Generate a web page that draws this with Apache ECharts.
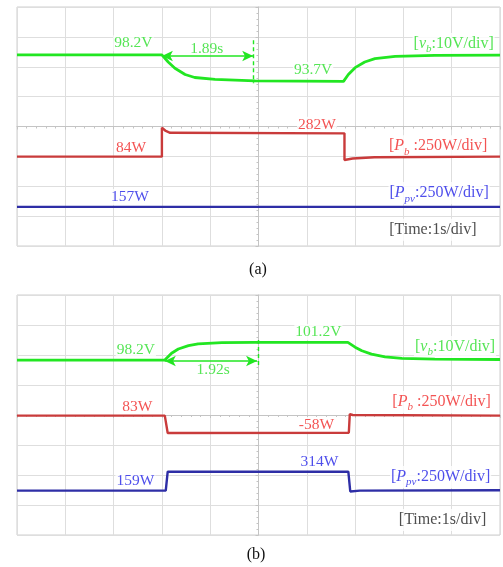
<!DOCTYPE html>
<html><head><meta charset="utf-8">
<script src="https://cdn.jsdelivr.net/npm/echarts@6/dist/echarts.min.js"></script>
<style>html,body{margin:0;padding:0;background:#fff}#c{width:503px;height:567px}</style>
</head><body><div id="c"></div>
<script>
// Time in seconds (1 s/div, 10 div); trace levels in screen divisions (0..8 from bottom)
// ---- Panel (a)
const tVbA  = [0, 3.00, 3.13, 3.27, 3.48, 3.68, 4.10, 4.93, 6.76, 6.86, 7.00, 7.20, 7.41, 7.83, 8.65, 10];
const vbA   = [6.40, 6.40, 6.16, 5.95, 5.74, 5.64, 5.58, 5.53, 5.51, 5.74, 5.97, 6.16, 6.27, 6.35, 6.38, 6.39];
const tPbA  = [0, 3.00, 3.00, 3.08, 3.17, 6.78, 6.78, 6.95, 7.40, 10];
const pbA   = [2.99, 2.99, 3.96, 3.85, 3.79, 3.77, 2.88, 2.93, 2.97, 2.99];
const tPpvA = [0, 10];
const ppvA  = [1.31, 1.31];
// ---- Panel (b)
const tVbB  = [0, 3.06, 3.20, 3.34, 3.55, 3.75, 4.24, 4.93, 6.85, 7.00, 7.14, 7.34, 7.62, 7.97, 8.65, 10];
const vbB   = [5.83, 5.83, 6.06, 6.20, 6.31, 6.37, 6.41, 6.42, 6.42, 6.26, 6.14, 6.03, 5.94, 5.89, 5.86, 5.85];
const tPbB  = [0, 3.06, 3.12, 6.87, 6.89, 6.95, 10];
const pbB   = [3.98, 3.98, 3.40, 3.41, 4.03, 4.00, 3.98];
const tPpvB = [0, 3.08, 3.12, 6.86, 6.90, 7.10, 10];
const ppvB  = [1.48, 1.48, 2.11, 2.11, 1.45, 1.48, 1.49];
// Annotated values
const valuesA = ['98.2V', '1.89s', '93.7V', '84W', '282W', '157W'];
const valuesB = ['98.2V', '1.92s', '101.2V', '83W', '-58W', '159W', '314W'];
const arrowA = {t0: 3.00, t1: 4.89, level: 6.36, dashTop: 6.89, dashBot: 5.45};
const arrowB = {t0: 3.06, t1: 4.97, level: 5.80, dashTop: 6.50, dashBot: 5.57, dashT: 4.99};

const GREEN = '#22e622', GREEN_T = '#2adf2a';
const RED = '#c93b3b', RED_T = '#f02828';
const BLUE = '#2e2ea6', BLUE_T = '#2222e6';
const FONT = '"Liberation Serif", "DejaVu Serif", serif';

const zip = (xs, ys) => xs.map((x, i) => [x, ys[i]]);

const rich = {
  n: {fontFamily: FONT, fontSize: 16, lineHeight: 22, verticalAlign: 'middle'},
  i: {fontFamily: FONT, fontSize: 16, fontStyle: 'italic', lineHeight: 22, verticalAlign: 'middle'},
  s: {fontFamily: FONT, fontSize: 11, fontStyle: 'italic', lineHeight: 14, verticalAlign: 'bottom'}
};
const scaleLabel = {
  vb:  '{n|[}{i|v}{s|b}{n|:10V/div]}',
  pb:  '{n|[}{i|P}{s|b}{n| :250W/div]}',
  ppv: '{n|[}{i|P}{s|pv}{n|:250W/div]}',
  time:'{n|[Time:1s/div]}'
};

function labelSeries(xi, yi, items) {
  return {
    type: 'scatter', xAxisIndex: xi, yAxisIndex: yi, symbolSize: 1, silent: true, z: 1,
    itemStyle: {color: 'rgba(0,0,0,0)'},
    data: items.map(it => ({
      value: it.at,
      label: {
        show: true, position: 'inside', formatter: it.f, color: it.c,
        fontFamily: FONT, fontSize: 15.5, rich: Object.fromEntries(Object.entries(rich).map(([k, v]) => [k, Object.assign({color: it.c}, v)])),
        backgroundColor: it.bg === false ? 'transparent' : '#fff', padding: [0, 1]
      }
    }))
  };
}

function traceSeries(xi, yi, data, color, width, z) {
  return {type: 'line', xAxisIndex: xi, yAxisIndex: yi, data, showSymbol: false, silent: true,
    lineStyle: {color, width}, itemStyle: {color}, z};
}

function arrowMark(a, dashT) {
  const tD = dashT === undefined ? a.t1 : dashT;
  return {
    silent: true, symbol: ['arrow', 'arrow'], symbolSize: [8, 11], label: {show: false},
    lineStyle: {color: GREEN, type: 'solid', width: 1.6}, animation: false,
    data: [
      [{coord: [a.t0, a.level]}, {coord: [a.t1, a.level]}],
      [{coord: [tD, a.dashTop], symbol: 'none', lineStyle: {type: [4, 3], width: 1.4, color: GREEN}}, {coord: [tD, a.dashBot], symbol: 'none'}]
    ]
  };
}

const grids = [
  {left: 17, top: 7, width: 483, height: 239},
  {left: 17, top: 295, width: 483, height: 240}
];
grids.forEach(g => Object.assign(g, {show: true, borderColor: '#cfcfcf', borderWidth: 1, backgroundColor: '#fff'}));

function mainX(gi) {
  return {gridIndex: gi, type: 'value', min: 0, max: 10, interval: 1,
    axisLabel: {show: false}, axisTick: {show: false}, axisLine: {show: false},
    splitLine: {show: true, lineStyle: {color: '#dedede', width: 1}}};
}
function mainY(gi) {
  return {gridIndex: gi, type: 'value', min: 0, max: 8, interval: 1,
    axisLabel: {show: false}, axisTick: {show: false}, axisLine: {show: false},
    splitLine: {show: true, lineStyle: {color: '#dedede', width: 1}}};
}
function centerX(gi, h) {
  return {gridIndex: gi, type: 'value', min: 0, max: 10, interval: 1, position: 'bottom', offset: -h / 2,
    axisLabel: {show: false}, splitLine: {show: false},
    axisLine: {show: true, lineStyle: {color: '#c4c4c4', width: 1}},
    axisTick: {show: true, length: 3, lineStyle: {color: '#c4c4c4'}},
    minorTick: {show: true, splitNumber: 5, length: 2, lineStyle: {color: '#c4c4c4'}}};
}
function centerY(gi, w) {
  return {gridIndex: gi, type: 'value', min: 0, max: 8, interval: 1, position: 'left', offset: -w / 2,
    axisLabel: {show: false}, splitLine: {show: false},
    axisLine: {show: true, lineStyle: {color: '#c4c4c4', width: 1}},
    axisTick: {show: true, length: 3, lineStyle: {color: '#c4c4c4'}},
    minorTick: {show: true, splitNumber: 5, length: 2, lineStyle: {color: '#c4c4c4'}}};
}

const vbA_s = traceSeries(0, 0, zip(tVbA, vbA), GREEN, 2.8, 5);
vbA_s.markLine = arrowMark(arrowA);
const vbB_s = traceSeries(2, 2, zip(tVbB, vbB), GREEN, 2.8, 5);
vbB_s.markLine = arrowMark(arrowB, arrowB.dashT);

const option = {
  animation: false,
  backgroundColor: '#fff',
  grid: grids,
  xAxis: [mainX(0), centerX(0, 239), mainX(1), centerX(1, 240)],
  yAxis: [mainY(0), centerY(0, 483), mainY(1), centerY(1, 483)],
  series: [
    traceSeries(0, 0, zip(tPpvA, ppvA), BLUE, 2.4, 3),
    traceSeries(0, 0, zip(tPbA, pbA), RED, 2.4, 3),
    vbA_s,
    traceSeries(2, 2, zip(tPpvB, ppvB), BLUE, 2.4, 3),
    traceSeries(2, 2, zip(tPbB, pbB), RED, 2.4, 3),
    vbB_s,
    labelSeries(0, 0, [
      {at: [2.41, 6.79], f: valuesA[0], c: GREEN_T},
      {at: [3.93, 6.61], f: valuesA[1], c: GREEN_T, bg: false},
      {at: [6.13, 5.89], f: valuesA[2], c: GREEN_T},
      {at: [9.04, 6.76], f: scaleLabel.vb, c: GREEN_T},
      {at: [2.36, 3.28], f: valuesA[3], c: RED_T},
      {at: [6.21, 4.06], f: valuesA[4], c: RED_T},
      {at: [8.72, 3.34], f: scaleLabel.pb, c: RED_T},
      {at: [2.34, 1.64], f: valuesA[5], c: BLUE_T},
      {at: [8.74, 1.77], f: scaleLabel.ppv, c: BLUE_T},
      {at: [8.61, 0.54], f: scaleLabel.time, c: '#222'}
    ]),
    labelSeries(2, 2, [
      {at: [2.46, 6.17], f: valuesB[0], c: GREEN_T},
      {at: [4.06, 5.50], f: valuesB[1], c: GREEN_T, bg: false},
      {at: [6.24, 6.77], f: valuesB[2], c: GREEN_T},
      {at: [9.07, 6.27], f: scaleLabel.vb, c: GREEN_T},
      {at: [2.49, 4.27], f: valuesB[3], c: RED_T},
      {at: [6.20, 3.67], f: valuesB[4], c: RED_T},
      {at: [8.79, 4.43], f: scaleLabel.pb, c: RED_T},
      {at: [2.45, 1.80], f: valuesB[5], c: BLUE_T},
      {at: [6.26, 2.42], f: valuesB[6], c: BLUE_T},
      {at: [8.77, 1.93], f: scaleLabel.ppv, c: BLUE_T},
      {at: [8.81, 0.50], f: scaleLabel.time, c: '#222'}
    ])
  ],
  graphic: [
    {type: 'text', x: 258, y: 270, style: {text: '(a)', font: '16px ' + FONT, fill: '#111', align: 'center', verticalAlign: 'middle'}},
    {type: 'text', x: 256, y: 555, style: {text: '(b)', font: '16px ' + FONT, fill: '#111', align: 'center', verticalAlign: 'middle'}}
  ]
};
const chart = echarts.init(document.getElementById('c'), null, {renderer: 'canvas'});
chart.setOption(option);
</script></body></html>
